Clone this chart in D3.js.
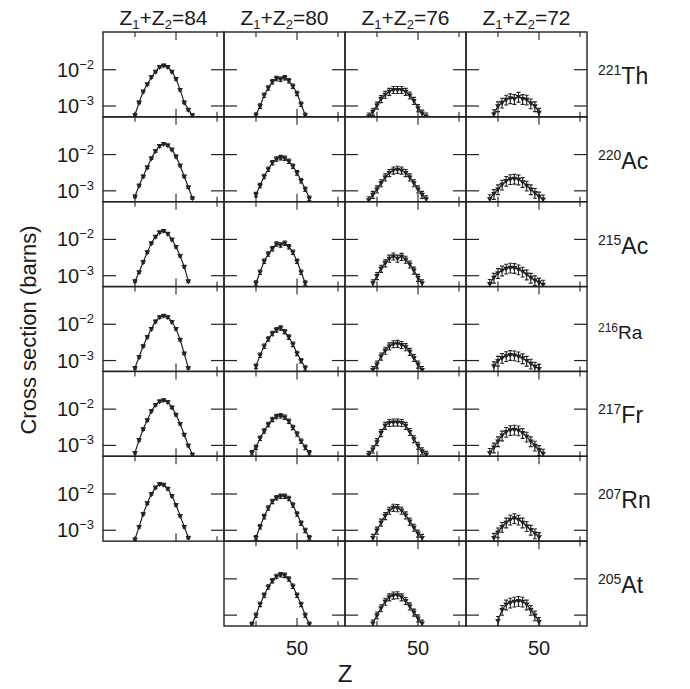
<!DOCTYPE html>
<html>
<head>
<meta charset="utf-8">
<script src="https://cdn.jsdelivr.net/npm/d3@7"></script>
<style>
  body { margin: 0; background: #fff; }
  text { font-family: "Liberation Sans", Arial, sans-serif; fill: #1a1a1a; }
</style>
</head>
<body>
<div id="chart"></div>
<script>
// Column headings (Z1+Z2) and row labels (compound nucleus)
const chargeSums = [84, 80, 76, 72];
const massNumbers = ['221', '220', '215', '216', '217', '207', '205'];
const elements = ['Th', 'Ac', 'Ac', 'Ra', 'Fr', 'Rn', 'At'];

// log10 of cross section (barns), one series per column, starting at Z = z0
const th221 = [
  {z0: 40, lg: [-3.25, -2.9, -2.6, -2.4, -2.2, -2.05, -1.92, -1.88, -1.92, -2.05, -2.25, -2.55, -2.9, -3.1, -3.25]},
  {z0: 40, lg: [-3.25, -3.0, -2.7, -2.5, -2.33, -2.24, -2.26, -2.22, -2.3, -2.45, -2.65, -2.95, -3.25]},
  {z0: 38, lg: [-3.28, -3.15, -2.98, -2.8, -2.68, -2.6, -2.55, -2.55, -2.55, -2.6, -2.7, -2.85, -3.05, -3.2, -3.28]},
  {z0: 39, lg: [-3.22, -3.0, -2.9, -2.82, -2.78, -2.8, -2.74, -2.8, -2.82, -2.92, -3.0, -3.18]}
];
const ac220 = [
  {z0: 40, lg: [-3.15, -2.85, -2.6, -2.35, -2.1, -1.9, -1.76, -1.7, -1.74, -1.86, -2.05, -2.3, -2.6, -2.9, -3.2]},
  {z0: 40, lg: [-3.1, -2.85, -2.6, -2.4, -2.22, -2.12, -2.08, -2.1, -2.18, -2.32, -2.5, -2.72, -2.95, -3.2]},
  {z0: 38, lg: [-3.25, -3.1, -2.95, -2.78, -2.62, -2.5, -2.43, -2.41, -2.43, -2.5, -2.62, -2.78, -2.95, -3.1, -3.22]},
  {z0: 38, lg: [-3.22, -3.08, -2.95, -2.82, -2.72, -2.67, -2.66, -2.68, -2.75, -2.85, -2.95, -3.05, -3.15, -3.23]}
];
const ac215 = [
  {z0: 40, lg: [-3.15, -2.9, -2.62, -2.35, -2.1, -1.92, -1.8, -1.76, -1.84, -2.0, -2.2, -2.45, -2.75, -3.15]},
  {z0: 40, lg: [-3.2, -2.9, -2.6, -2.4, -2.25, -2.12, -2.15, -2.1, -2.2, -2.35, -2.6, -2.9, -3.2]},
  {z0: 39, lg: [-3.2, -3.0, -2.8, -2.65, -2.52, -2.46, -2.52, -2.47, -2.55, -2.68, -2.85, -3.05, -3.2]},
  {z0: 38, lg: [-3.22, -3.05, -2.92, -2.85, -2.8, -2.77, -2.78, -2.82, -2.88, -2.96, -3.05, -3.12, -3.18, -3.24]}
];
const ra216 = [
  {z0: 40, lg: [-3.2, -2.9, -2.6, -2.35, -2.12, -1.92, -1.8, -1.76, -1.8, -1.93, -2.12, -2.42, -2.8, -3.2]},
  {z0: 40, lg: [-3.15, -2.85, -2.6, -2.4, -2.25, -2.15, -2.1, -2.2, -2.35, -2.55, -2.8, -3.0, -3.2]},
  {z0: 39, lg: [-3.25, -3.1, -2.88, -2.72, -2.6, -2.54, -2.53, -2.56, -2.62, -2.75, -2.92, -3.1, -3.25]},
  {z0: 39, lg: [-3.15, -3.0, -2.92, -2.87, -2.84, -2.85, -2.88, -2.93, -3.0, -3.08, -3.16, -3.22]}
];
const fr217 = [
  {z0: 40, lg: [-3.2, -2.85, -2.55, -2.3, -2.05, -1.88, -1.78, -1.75, -1.8, -1.95, -2.15, -2.4, -2.7, -3.0, -3.25]},
  {z0: 39, lg: [-3.2, -3.05, -2.8, -2.6, -2.42, -2.28, -2.2, -2.18, -2.22, -2.33, -2.5, -2.68, -2.88, -3.05, -3.2]},
  {z0: 38, lg: [-3.25, -3.1, -2.9, -2.65, -2.45, -2.37, -2.36, -2.36, -2.37, -2.45, -2.62, -2.82, -3.0, -3.15, -3.25]},
  {z0: 38, lg: [-3.2, -3.05, -2.88, -2.72, -2.62, -2.57, -2.56, -2.58, -2.65, -2.75, -2.88, -3.0, -3.12, -3.22]}
];
const rn207 = [
  {z0: 40, lg: [-3.25, -2.9, -2.55, -2.25, -2.0, -1.82, -1.72, -1.74, -1.85, -2.05, -2.3, -2.6, -2.9, -3.2]},
  {z0: 40, lg: [-3.2, -2.9, -2.62, -2.38, -2.2, -2.1, -2.06, -2.06, -2.12, -2.3, -2.55, -2.8, -3.0, -3.2]},
  {z0: 39, lg: [-3.2, -3.0, -2.78, -2.6, -2.45, -2.37, -2.38, -2.45, -2.58, -2.75, -2.92, -3.08, -3.2]},
  {z0: 39, lg: [-3.2, -3.05, -2.9, -2.78, -2.7, -2.66, -2.7, -2.78, -2.88, -2.98, -3.08, -3.18]}
];
const at205 = [
  null,
  {z0: 39, lg: [-3.25, -3.0, -2.7, -2.45, -2.22, -2.05, -1.93, -1.88, -1.9, -2.0, -2.2, -2.45, -2.7, -3.0, -3.25]},
  {z0: 39, lg: [-3.22, -3.0, -2.8, -2.62, -2.5, -2.45, -2.44, -2.5, -2.6, -2.75, -2.92, -3.08, -3.22]},
  {z0: 40, lg: [-3.15, -2.85, -2.7, -2.65, -2.62, -2.6, -2.62, -2.7, -2.85, -3.0, -3.18]}
];
const rows = [th221, ac220, ac215, ra216, fr217, rn207, at205];

// relative error bar size per column
const relErrors = [0.08, 0.14, 0.22, 0.3];

const yTicks = [1e-2, 1e-3];
const xTicks = [40, 50, 60];

const width = 690, height = 689;
const marginLeft = 103, marginTop = 32;
const pw = 121, ph = 594 / 7;

const svg = d3.select('#chart').append('svg')
  .attr('width', width)
  .attr('height', height);

const x = d3.scaleLinear().domain([32.2, 61.7]).range([0, pw]);
const y = d3.scaleLog().domain([Math.pow(10, -3.3), Math.pow(10, -0.96)]).range([ph, 0]);

const line = d3.line()
  .x(d => x(d.z))
  .y(d => y(d.v));

svg.append('defs').append('clipPath')
    .attr('id', 'panel-clip')
  .append('rect')
    .attr('width', pw)
    .attr('height', ph);

rows.forEach((row, r) => {
  row.forEach((series, c) => {
    if (!series) return;
    const g = svg.append('g')
        .attr('class', `panel panel-${r}-${c}`)
        .attr('transform', `translate(${marginLeft + c * pw},${marginTop + r * ph})`);

    // frame
    g.append('rect')
        .attr('width', pw)
        .attr('height', ph)
        .attr('fill', 'none')
        .attr('stroke', '#222')
        .attr('stroke-width', 1.4);

    // y ticks, inward on both sides
    yTicks.forEach(t => {
      g.append('line').attr('x1', 0).attr('x2', 13).attr('y1', y(t)).attr('y2', y(t))
        .attr('stroke', '#222').attr('stroke-width', 1.2);
      g.append('line').attr('x1', pw - 13).attr('x2', pw).attr('y1', y(t)).attr('y2', y(t))
        .attr('stroke', '#222').attr('stroke-width', 1.2);
    });
    // x ticks, inward top and bottom
    xTicks.forEach(t => {
      const len = t === 50 ? 8 : 5;
      g.append('line').attr('x1', x(t)).attr('x2', x(t)).attr('y1', 0).attr('y2', len)
        .attr('stroke', '#222').attr('stroke-width', 1.1);
      g.append('line').attr('x1', x(t)).attr('x2', x(t)).attr('y1', ph - len).attr('y2', ph)
        .attr('stroke', '#222').attr('stroke-width', 1.1);
    });

    const pts = series.lg.map((v, i) => ({z: series.z0 + i, v: Math.pow(10, v)}));
    const err = relErrors[c];
    const plot = g.append('g').attr('clip-path', 'url(#panel-clip)');

    plot.append('path')
        .datum(pts)
        .attr('fill', 'none')
        .attr('stroke', '#222')
        .attr('stroke-width', 1.2)
        .attr('d', line);

    // error bars
    const bars = plot.selectAll('.err')
      .data(pts)
      .join('g')
        .attr('class', 'err')
        .attr('stroke', '#222')
        .attr('stroke-width', 1.1);
    bars.append('line')
        .attr('x1', d => x(d.z)).attr('x2', d => x(d.z))
        .attr('y1', d => y(d.v * (1 + err))).attr('y2', d => y(d.v * (1 - err)));
    bars.append('line')
        .attr('x1', d => x(d.z) - 2).attr('x2', d => x(d.z) + 2)
        .attr('y1', d => y(d.v * (1 + err))).attr('y2', d => y(d.v * (1 + err)));
    bars.append('line')
        .attr('x1', d => x(d.z) - 2).attr('x2', d => x(d.z) + 2)
        .attr('y1', d => y(d.v * (1 - err))).attr('y2', d => y(d.v * (1 - err)));

    plot.selectAll('.pt')
      .data(pts)
      .join('path')
        .attr('class', 'pt')
        .attr('transform', d => `translate(${x(d.z)},${y(d.v)}) rotate(180)`)
        .attr('d', d3.symbol(d3.symbolTriangle, 14))
        .attr('fill', '#222');

    // y tick labels on first column only
    if (c === 0) {
      yTicks.forEach(t => {
        const lbl = g.append('text')
            .attr('x', -9)
            .attr('y', y(t) + 7)
            .attr('text-anchor', 'end')
            .style('font-size', '20px');
        lbl.append('tspan').text('10');
        lbl.append('tspan')
            .attr('dy', -8)
            .style('font-size', '13px')
            .text('\u2212' + Math.round(-Math.log10(t)));
      });
    }
  });
});

// column headings
chargeSums.forEach((s, c) => {
  const t = svg.append('text')
      .attr('x', marginLeft + c * pw + pw / 2)
      .attr('y', 25)
      .attr('text-anchor', 'middle')
      .style('font-size', '21px');
  t.append('tspan').text('Z');
  t.append('tspan').attr('dy', 4).style('font-size', '13px').text('1');
  t.append('tspan').attr('dy', -4).text('+Z');
  t.append('tspan').attr('dy', 4).style('font-size', '13px').text('2');
  t.append('tspan').attr('dy', -4).text('=' + s);
});

// row labels
massNumbers.forEach((m, r) => {
  const small = elements[r] === 'Ra';
  const t = svg.append('text')
      .attr('x', 598)
      .attr('y', marginTop + r * ph + 52)
      .style('font-size', small ? '19px' : '23px');
  t.append('tspan')
      .attr('dy', small ? -7 : -9)
      .style('font-size', small ? '12px' : '14px')
      .text(m);
  t.append('tspan')
      .attr('dy', small ? 7 : 9)
      .text(elements[r]);
});

// x tick labels under bottom row (columns 2-4)
[1, 2, 3].forEach(c => {
  svg.append('text')
      .attr('x', marginLeft + c * pw + x(50))
      .attr('y', 655)
      .attr('text-anchor', 'middle')
      .style('font-size', '20px')
      .text('50');
});

// axis titles
svg.append('text')
    .attr('x', marginLeft + 2 * pw)
    .attr('y', 682)
    .attr('text-anchor', 'middle')
    .style('font-size', '24px')
    .text('Z');

svg.append('text')
    .attr('transform', `translate(36,330) rotate(-90)`)
    .attr('text-anchor', 'middle')
    .style('font-size', '22px')
    .text('Cross section (barns)');
</script>
</body>
</html>
